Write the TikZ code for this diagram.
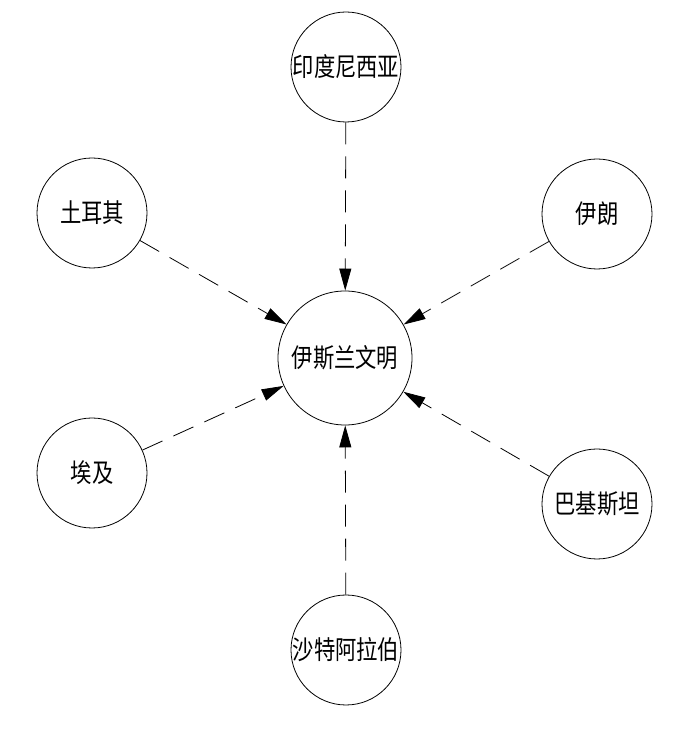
\documentclass[tikz,border=0pt]{standalone}
\usepackage{fontspec}
\newfontfamily\cjk[FakeStretch=0.82]{Noto Sans CJK SC}
\usetikzlibrary{arrows.meta}

\begin{document}
\begin{tikzpicture}[x=1pt,y=1pt,
	country/.style={draw,circle,line width=0.8pt,minimum size=110pt,inner sep=0pt,font=\cjk\fontsize{26}{26}\selectfont},
	link/.style={line width=0.8pt,dash pattern=on 22pt off 12pt,-{Triangle[length=22pt,width=12pt]}}]
	%% page frame
	\useasboundingbox (0,0) rectangle (693,734);

	\def\cR{134pt} % size of the middle circle

	\node[country,minimum size=\cR] (islam) at (345,376) {伊斯兰文明};

	\node[country] (indo) at (346,667) {印度尼西亚};
	\node[country] (turkey) at (92,521) {土耳其};
	\node[country] (iran) at (597,520) {伊朗};
	\node[country] (egypt) at (92,261) {埃及};
	\node[country] (pak) at (597,230) {巴基斯坦};
	\node[country] (saudi) at (346,84) {沙特阿拉伯};

	% dashed arrows into the middle
	\foreach \from in {indo,turkey,iran,egypt,pak,saudi}
		\draw[link] (\from) -- (islam);

\end{tikzpicture}
\end{document}
